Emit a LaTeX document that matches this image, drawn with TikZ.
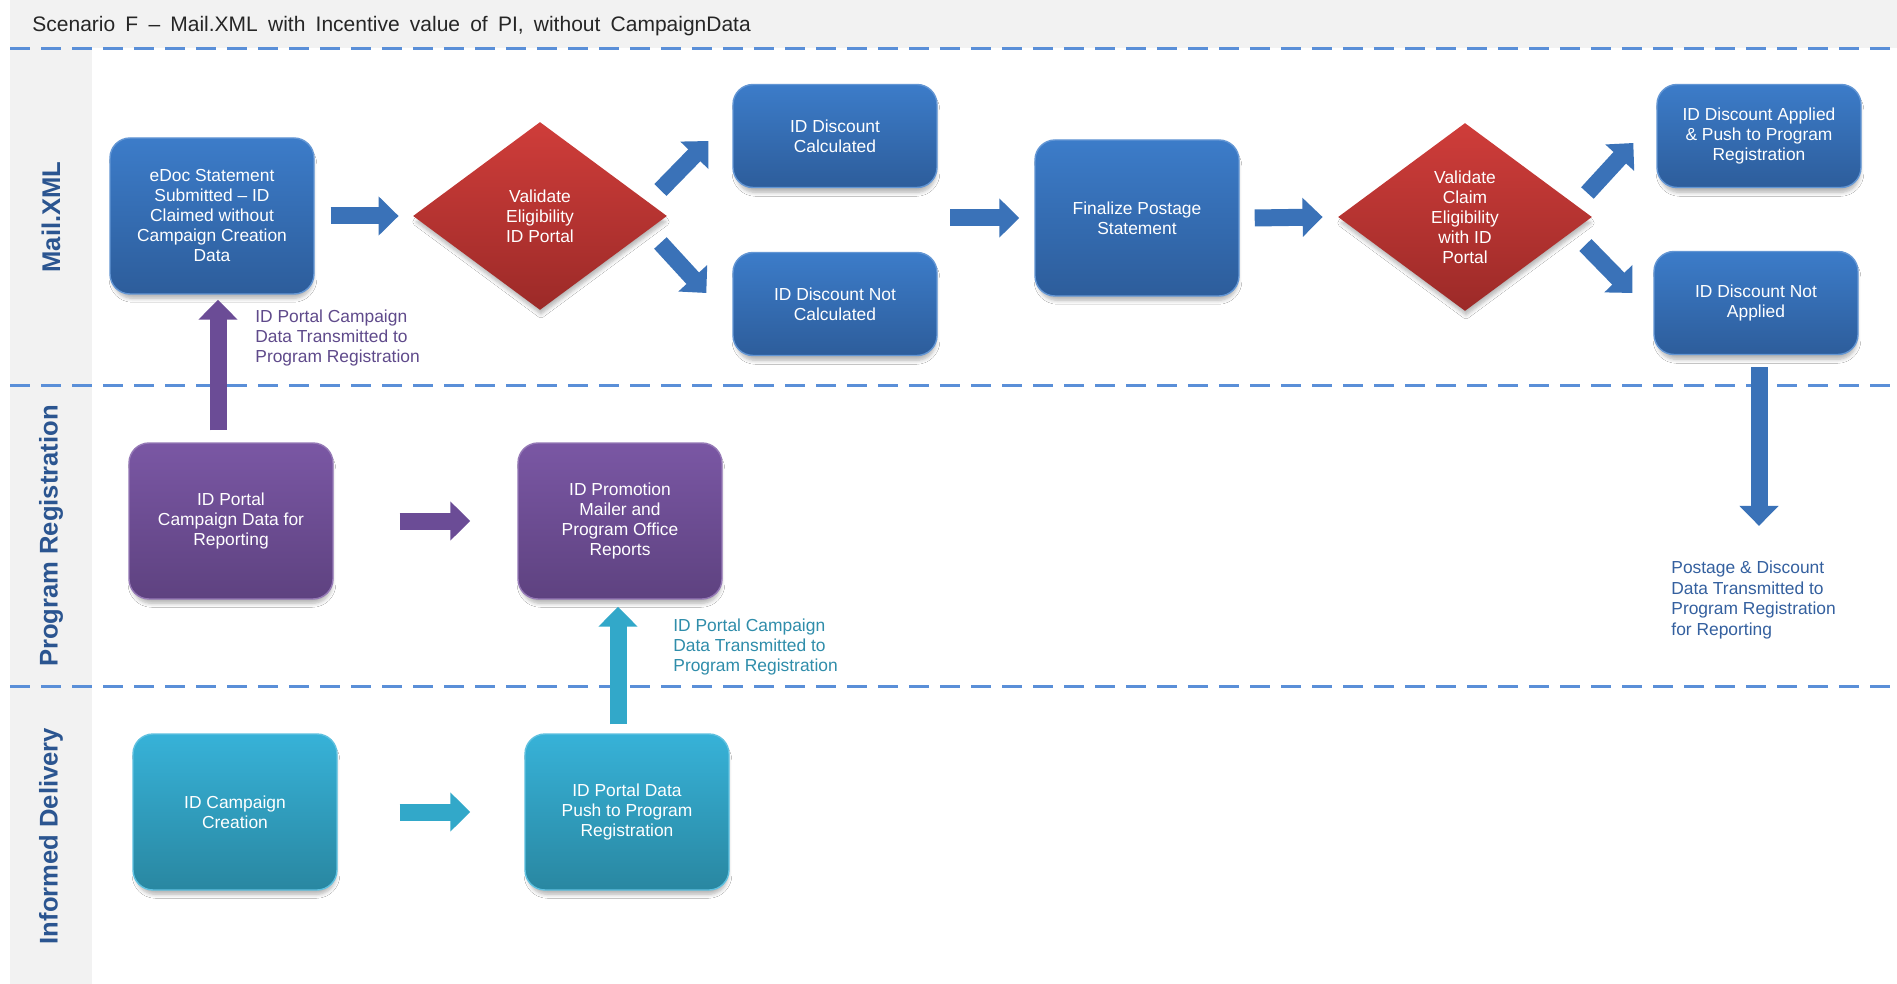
\documentclass[tikz,border=0pt]{standalone}
\usepackage{fontspec}
\setmainfont{Liberation Sans}
\newfontfamily\titlefont[WordSpace=1.75]{Liberation Sans}
\usetikzlibrary{arrows.meta,shapes.geometric,shadows.blur}
\definecolor{bluetop}{HTML}{3C7CC9}
\definecolor{bluebot}{HTML}{2D5D9B}
\definecolor{redtop}{HTML}{CF3D3A}
\definecolor{redbot}{HTML}{9C2A28}
\definecolor{purtop}{HTML}{7A57A4}
\definecolor{purbot}{HTML}{5E4280}
\definecolor{tealtop}{HTML}{37B2D8}
\definecolor{tealbot}{HTML}{2987A1}
\definecolor{dashblue}{HTML}{5A8FD8}
\definecolor{lanegray}{HTML}{F2F2F2}
\definecolor{lanetext}{HTML}{2B5590}
\definecolor{arrowblue}{HTML}{3A72B8}
\definecolor{arrowpurple}{HTML}{6B4C96}
\definecolor{arrowteal}{HTML}{32A8C9}
\definecolor{labelpurple}{HTML}{5F4A8B}
\definecolor{labelteal}{HTML}{2F8DAA}
\definecolor{labelblue}{HTML}{34609F}
\begin{document}
\begin{tikzpicture}[x=0.5pt,y=-0.5pt,
  lanedash/.style={draw=dashblue, line width=1.5pt, dash pattern=on 10pt off 5.5pt},
  lanelabel/.style={rotate=90, font=\bfseries\fontsize{12.8}{14}\selectfont, text=lanetext, inner sep=0pt},
  softshadow/.style={blur shadow={shadow xshift=0.5pt, shadow yshift=-3pt, shadow scale=0.98, shadow blur radius=2pt, shadow blur steps=6, shadow opacity=30}},
  box/.style={rounded corners=10pt, align=center, text=white, inner sep=2pt,
    font=\fontsize{8.7}{10}\selectfont, softshadow},
  bigbox/.style={box, minimum width=102pt, minimum height=78pt},
  smallbox/.style={box, minimum width=102pt, minimum height=51.5pt},
  bluefill/.style={top color=bluetop, bottom color=bluebot, draw=bluetop!80!white, line width=0.7pt},
  purfill/.style={top color=purtop, bottom color=purbot, draw=purtop!80!white, line width=0.7pt},
  tealfill/.style={top color=tealtop, bottom color=tealbot, draw=tealtop!80!white, line width=0.7pt},
  decision/.style={diamond, aspect=1.36, minimum width=127pt, minimum height=94pt, inner sep=1pt,
    top color=redtop, bottom color=redbot, text=white, align=center,
    font=\fontsize{8.7}{10}\selectfont, softshadow},
  barrow/.style={line width=8.5pt, -{Triangle[width=19pt,length=10pt]}},
  blueflow/.style={barrow, draw=arrowblue},
  purflow/.style={barrow, draw=arrowpurple},
  tealflow/.style={barrow, draw=arrowteal},
  lbl/.style={align=left, inner sep=0pt, font=\fontsize{8.7}{10.2}\selectfont}
]
\useasboundingbox (0,0) rectangle (1897,984);
\fill[white] (0,0) rectangle (1897,984);
% background bands
\fill[lanegray] (10,0) rectangle (1897,48);
\fill[lanegray] (10,48) rectangle (92,984);
\draw[lanedash] (10,49) -- (1897,49);
\draw[lanedash] (10,386) -- (1897,386);
\draw[lanedash] (10,686) -- (1897,686);

% title
\node[anchor=base west, inner sep=0pt, text=black!85, font=\titlefont\fontsize{10.5}{12}\selectfont] (title) at (32,32)
  {Scenario F – Mail.XML with Incentive value of PI, without CampaignData};

% lane labels
\node[lanelabel] (laneM) at (51,217) {Mail.XML};
\node[lanelabel] (laneP) at (51,536) {Program Registration};
\node[lanelabel] (laneI) at (51,836) {Informed Delivery};

% Mail.XML lane
\node[bigbox, bluefill] (edoc) at (212,216) {eDoc Statement\\Submitted – ID\\Claimed without\\Campaign Creation\\Data};
\node[decision] (d1) at (540,216) {Validate\\Eligibility\\ID Portal};
\node[smallbox, bluefill] (dcalc) at (835,136) {ID Discount\\Calculated};
\node[smallbox, bluefill] (dnot) at (835,304) {ID Discount Not\\Calculated};
\node[bigbox, bluefill] (fin) at (1137,218) {Finalize Postage\\Statement};
\node[decision] (d2) at (1465,217) {Validate\\Claim\\Eligibility\\with ID\\Portal};
\node[smallbox, bluefill] (dapp) at (1759,136) {ID Discount Applied\\\& Push to Program\\Registration};
\node[smallbox, bluefill] (dnapp) at (1756,303) {ID Discount Not\\Applied};

% Program Registration lane
\node[bigbox, purfill] (pcamp) at (231,521) {ID Portal\\Campaign Data for\\Reporting};
\node[bigbox, purfill] (pmail) at (620,521) {ID Promotion\\Mailer and\\Program Office\\Reports};

% Informed Delivery lane
\node[bigbox, tealfill] (icamp) at (235,812) {ID Campaign\\Creation};
\node[bigbox, tealfill] (ipush) at (627,812) {ID Portal Data\\Push to Program\\Registration};

% labels
\node[lbl, text=labelpurple, anchor=west] (lblpur) at (255,338) {ID Portal Campaign\\Data Transmitted to\\Program Registration};
\node[lbl, text=labelteal, anchor=west] (lblteal) at (673,647) {ID Portal Campaign\\Data Transmitted to\\Program Registration};
\node[lbl, text=labelblue, anchor=west] (lblpd) at (1671,600) {Postage \& Discount\\Data Transmitted to\\Program Registration\\for Reporting};

\coordinate (merge) at (950,218);

% block arrows
\draw[blueflow] ([xshift=8pt]edoc.east) -- ([xshift=-7pt]d1.west);
\draw[blueflow] ([shift={(-7,-26)}]d1.east) -- ([shift={(-24,5)}]dcalc.west);
\draw[blueflow] ([shift={(-7,27)}]d1.east) -- ([shift={(-26,-11)}]dnot.west);
\draw[blueflow] (merge) -- ([xshift=-7.5pt]fin.west);
\draw[blueflow] ([xshift=7.5pt]fin.east) -- ([xshift=-7.5pt]d2.west);
\draw[blueflow] ([shift={(-5,-24)}]d2.east) -- ([shift={(-23,7)}]dapp.west);
\draw[blueflow] ([shift={(-7,28)}]d2.east) -- ([shift={(-21,-10)}]dnapp.west);
\draw[blueflow] ([shift={(3,12)}]dnapp.south) -- ([shift={(3,-35)}]dnapp.south |- lblpd.north);
\draw[purflow] ([shift={(-13,-12)}]pcamp.north) -- ([shift={(6,5)}]edoc.south);
\draw[purflow] ([xshift=33pt]pcamp.east) -- ([xshift=-23.5pt]pmail.west);
\draw[tealflow] ([shift={(-9,-9)}]ipush.north) -- ([shift={(-2,7)}]pmail.south);
\draw[tealflow] ([xshift=31pt]icamp.east) -- ([xshift=-27pt]ipush.west);
\end{tikzpicture}
\end{document}
